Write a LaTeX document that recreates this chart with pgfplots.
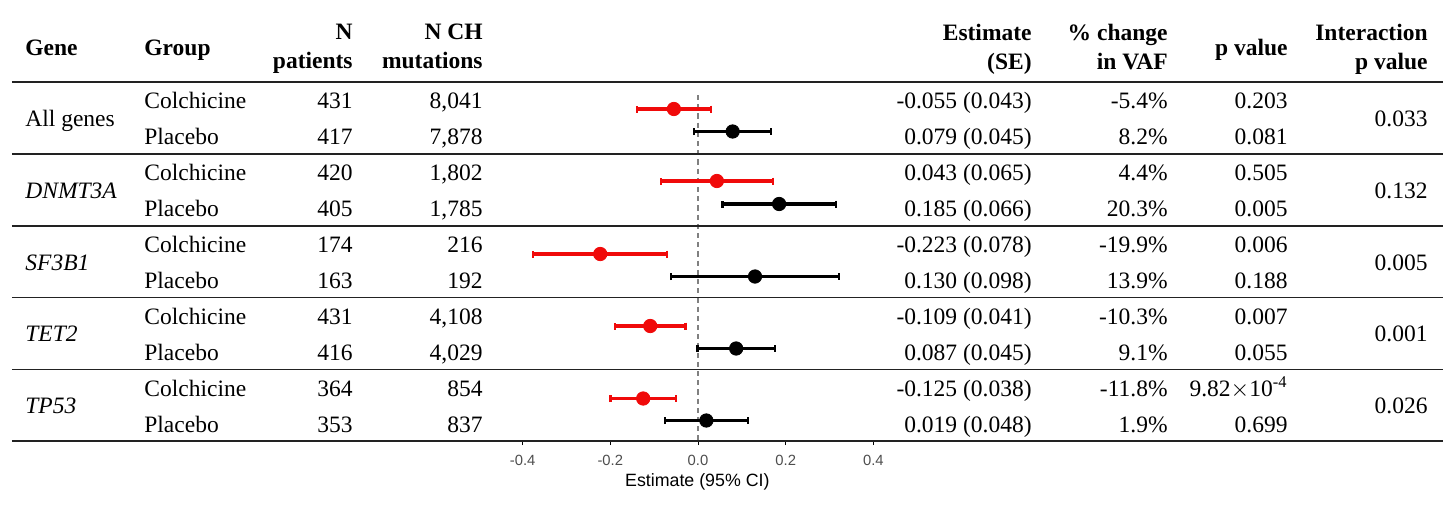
\documentclass[border=0pt]{standalone}
\usepackage{pgfplots}
\pgfplotsset{compat=1.18}
\usepackage{fontspec}
\setmainfont{Liberation Serif}
\setsansfont{Liberation Sans}
\definecolor{myred}{RGB}{240,10,10}
\definecolor{rulec}{RGB}{34,34,34}
\definecolor{tickc}{RGB}{77,77,77}
\newcommand\tabfont{\fontsize{11.75}{14}\selectfont}
\begin{document}
\begin{tikzpicture}
\begin{axis}[
  x=219.25pt, y=0.5pt,
  xmin=-0.4363, xmax=0.4333, ymin=-440.7, ymax=-82,
  clip=false,
  axis x line*=bottom, axis y line=none,
  x axis line style={-, line width=0.9pt, black},
  xtick={-0.4,-0.2,0,0.2,0.4},
  xticklabels={-0.4,-0.2,0.0,0.2,0.4},
  xtick pos=lower, tick align=outside,
  major tick length=2.2pt,
  tick style={black, line width=0.5pt},
  ytick=\empty,
  xticklabel style={font=\fontsize{7.4}{8}\selectfont\sffamily, text=tickc, yshift=-1.4pt},
  xlabel={Estimate (95\% CI)},
  xlabel style={font=\fontsize{8.9}{10}\selectfont\sffamily, at={(axis description cs:0.5,0)}, anchor=base, yshift=-22.8pt},
  error bars/error bar style={line width=1.6pt},
  error bars/error mark options={rotate=90, line width=1.1pt, mark size=1.75pt},
]
\coordinate (O) at (axis cs:-1.59179,0);
\draw[gray, line width=0.65pt, dash pattern=on 2.6pt off 2pt] (axis cs:0,-95) -- (axis cs:0,-440.7);
% Colchicine
\addplot[only marks, mark=*, mark size=3.35pt, color=myred,
  error bars/.cd, x dir=both, x explicit]
  coordinates {
  (-0.055,-109) +- (0.08428,0)
  (0.043,-181) +- (0.1274,0)
  (-0.223,-254) +- (0.15288,0)
  (-0.109,-326) +- (0.08036,0)
  (-0.125,-398.5) +- (0.07448,0)
  };
% Placebo
\addplot[only marks, mark=*, mark size=3.35pt, color=black,
  error bars/.cd, x dir=both, x explicit]
  coordinates {
  (0.079,-131.5) +- (0.0882,0)
  (0.185,-204) +- (0.12936,0)
  (0.130,-276.5) +- (0.19208,0)
  (0.087,-348.5) +- (0.0882,0)
  (0.019,-420.5) +- (0.09408,0)
  };
\end{axis}
\pgfresetboundingbox
\begin{scope}[shift={(O)}, x=0.5pt, y=-0.5pt]
\path[use as bounding box] (0,0) rectangle (1456,510);
\begin{scope}[every node/.style={font=\tabfont, inner sep=0pt}]
% header
\node[anchor=base west, font=\tabfont\bfseries] at (25,55) {Gene};
\node[anchor=base west, font=\tabfont\bfseries] at (144,55) {Group};
\node[anchor=base east, font=\tabfont\bfseries] at (353,39.5) {N};
\node[anchor=base east, font=\tabfont\bfseries] at (353,68.5) {patients};
\node[anchor=base east, font=\tabfont\bfseries] at (483,39.5) {N CH};
\node[anchor=base east, font=\tabfont\bfseries] at (483,68.5) {mutations};
\node[anchor=base east, font=\tabfont\bfseries] at (1032,40.5) {Estimate};
\node[anchor=base east, font=\tabfont\bfseries] at (1032,69.5) {(SE)};
\node[anchor=base east, font=\tabfont\bfseries] at (1168,40.5) {\% change};
\node[anchor=base east, font=\tabfont\bfseries] at (1168,69.5) {in VAF};
\node[anchor=base east, font=\tabfont\bfseries] at (1288,55) {p value};
\node[anchor=base east, font=\tabfont\bfseries] at (1428,40.5) {Interaction};
\node[anchor=base east, font=\tabfont\bfseries] at (1428,69.5) {p value};
% rows
\foreach \yb/\grp/\np/\nch/\est/\pc/\pv in {
  108.5/Colchicine/431/{8,041}/{-0.055 (0.043)}/{-5.4\%}/0.203,
  144.5/Placebo/417/{7,878}/{0.079 (0.045)}/{8.2\%}/0.081,
  180.7/Colchicine/420/{1,802}/{0.043 (0.065)}/{4.4\%}/0.505,
  216.7/Placebo/405/{1,785}/{0.185 (0.066)}/{20.3\%}/0.005,
  252.7/Colchicine/174/216/{-0.223 (0.078)}/{-19.9\%}/0.006,
  288.7/Placebo/163/192/{0.130 (0.098)}/{13.9\%}/0.188,
  324.2/Colchicine/431/{4,108}/{-0.109 (0.041)}/{-10.3\%}/0.007,
  360.2/Placebo/416/{4,029}/{0.087 (0.045)}/{9.1\%}/0.055,
  396.2/Colchicine/364/854/{-0.125 (0.038)}/{-11.8\%}/{9.82$\times$10\textsuperscript{-4}},
  432.2/Placebo/353/837/{0.019 (0.048)}/{1.9\%}/0.699}
{
  \node[anchor=base west] at (144,\yb) {\grp};
  \node[anchor=base east] at (353,\yb) {\np};
  \node[anchor=base east] at (483,\yb) {\nch};
  \node[anchor=base east] at (1032,\yb) {\est};
  \node[anchor=base east] at (1168,\yb) {\pc};
  \node[anchor=base east] at (1288,\yb) {\pv};
}
\foreach \yb/\gene/\ip in {
  126.5/{All genes}/0.033,
  198.3/{\itshape DNMT3A}/0.132,
  270.3/{\itshape SF3B1}/0.005,
  341.8/{\itshape TET2}/0.001,
  413.8/{\itshape TP53}/0.026}
{
  \node[anchor=base west] at (25,\yb) {\gene};
  \node[anchor=base east] at (1428,\yb) {\ip};
}
\end{scope}
% rules
\draw[rulec, line width=1pt] (12,82) -- (1443,82);
\foreach \yr in {154,226,297.5,369.5}
  \draw[rulec, line width=0.75pt] (12,\yr) -- (1443,\yr);
\draw[rulec, line width=0.85pt] (12,441) -- (1443,441);
\end{scope}
\end{tikzpicture}
\end{document}
